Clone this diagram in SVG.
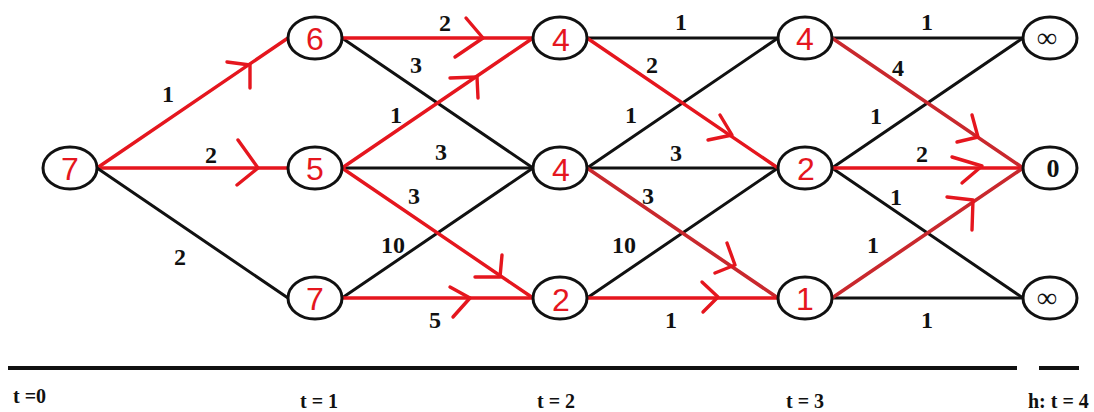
<svg xmlns="http://www.w3.org/2000/svg" width="1094" height="412" viewBox="0 0 1094 412">
<style>
.bk{stroke:#111;stroke-width:3;fill:none;stroke-linecap:round}
.rd{stroke:#e5161e;stroke-width:3.4;fill:none;stroke-linecap:round;stroke-linejoin:round}
.rd2{stroke:#c9282d;stroke-width:3.6;fill:none;stroke-linecap:round;stroke-linejoin:round}
.node ellipse{fill:#fff;stroke:#111;stroke-width:3}
.nv{font-family:"Liberation Sans",Arial,sans-serif;font-size:32px;fill:#e5161e;text-anchor:middle}
.nb{font-family:"Liberation Serif","Times New Roman",serif;font-weight:bold;fill:#111;text-anchor:middle}
.lb{font-family:"Liberation Serif","Times New Roman",serif;font-weight:bold;font-size:24px;fill:#111;text-anchor:middle}
.ax{font-family:"Liberation Serif","Times New Roman",serif;font-weight:bold;font-size:20px;fill:#111}
</style>
<rect width="1094" height="412" fill="#fff"/>
<g id="connectors">
  <line class="rd" x1="97" y1="168" x2="288" y2="38"/>
  <line class="rd" x1="97" y1="168" x2="288" y2="168"/>
  <line class="bk" x1="97" y1="168" x2="288" y2="298"/>
  <line class="bk" x1="342" y1="38" x2="533" y2="168"/>
  <line class="bk" x1="342" y1="168" x2="533" y2="168"/>
  <line class="bk" x1="342" y1="298" x2="533" y2="168"/>
  <line class="rd" x1="342" y1="38" x2="533" y2="38"/>
  <line class="rd" x1="342" y1="168" x2="533" y2="38"/>
  <line class="rd" x1="342" y1="168" x2="533" y2="298"/>
  <line class="rd" x1="342" y1="298" x2="533" y2="298"/>
  <line class="bk" x1="587" y1="38" x2="778" y2="38"/>
  <line class="bk" x1="587" y1="168" x2="778" y2="38"/>
  <line class="bk" x1="587" y1="168" x2="778" y2="168"/>
  <line class="bk" x1="587" y1="298" x2="778" y2="168"/>
  <line class="rd" x1="587" y1="38" x2="778" y2="168"/>
  <line class="rd2" x1="587" y1="168" x2="778" y2="298"/>
  <line class="rd" x1="587" y1="298" x2="778" y2="298"/>
  <line class="bk" x1="832" y1="38" x2="1023" y2="38"/>
  <line class="bk" x1="832" y1="168" x2="1023" y2="38"/>
  <line class="bk" x1="832" y1="168" x2="1023" y2="298"/>
  <line class="bk" x1="832" y1="298" x2="1023" y2="298"/>
  <line class="rd2" x1="832" y1="38" x2="1023" y2="168"/>
  <line class="rd" x1="832" y1="168" x2="1023" y2="168"/>
  <line class="rd2" x1="832" y1="298" x2="1023" y2="168"/>
  <polyline class="rd" points="227,62 250,65 250,88"/>
  <polyline class="rd" points="238,140 258,168 237,185"/>
  <polyline class="rd" points="466,18 483,38 455,57"/>
  <polyline class="rd" points="450,78 477,77 478,98"/>
  <polyline class="rd" points="502,255 500,277 475,277"/>
  <polyline class="rd" points="450,287 470,298 453,317"/>
  <polyline class="rd" points="720,115 732,135 708,140"/>
  <polyline class="rd" points="727,243 735,265 715,273"/>
  <polyline class="rd" points="702,282 718,297 703,312"/>
  <polyline class="rd" points="972,115 978,137 957,142"/>
  <polyline class="rd" points="952,157 982,166 962,183"/>
  <polyline class="rd" points="947,197 973,200 972,230"/>
</g>
<g id="edge-labels">
  <text class="lb" x="168" y="102">1</text>
  <text class="lb" x="211" y="163">2</text>
  <text class="lb" x="180" y="265">2</text>
  <text class="lb" x="445" y="31">2</text>
  <text class="lb" x="416" y="73">3</text>
  <text class="lb" x="396" y="123">1</text>
  <text class="lb" x="441" y="160">3</text>
  <text class="lb" x="414" y="204">3</text>
  <text class="lb" x="393" y="253">10</text>
  <text class="lb" x="435" y="328">5</text>
  <text class="lb" x="681" y="30">1</text>
  <text class="lb" x="652" y="73">2</text>
  <text class="lb" x="631" y="123">1</text>
  <text class="lb" x="676" y="161">3</text>
  <text class="lb" x="648" y="204">3</text>
  <text class="lb" x="624" y="253">10</text>
  <text class="lb" x="671" y="328">1</text>
  <text class="lb" x="927" y="30">1</text>
  <text class="lb" x="898" y="76">4</text>
  <text class="lb" x="876" y="124">1</text>
  <text class="lb" x="922" y="162">2</text>
  <text class="lb" x="896" y="205">1</text>
  <text class="lb" x="873" y="253">1</text>
  <text class="lb" x="927" y="328">1</text>
</g>
<g id="n0" class="node"><ellipse cx="70" cy="168" rx="27" ry="21"/><text class="nv" x="70" y="180">7</text></g>
<g id="n1a" class="node"><ellipse cx="315" cy="38" rx="27" ry="21"/><text class="nv" x="315" y="50">6</text></g>
<g id="n1b" class="node"><ellipse cx="315" cy="168" rx="27" ry="21"/><text class="nv" x="315" y="180">5</text></g>
<g id="n1c" class="node"><ellipse cx="315" cy="298" rx="27" ry="21"/><text class="nv" x="315" y="310">7</text></g>
<g id="n2a" class="node"><ellipse cx="560" cy="38" rx="27" ry="21"/><text class="nv" x="561" y="51">4</text></g>
<g id="n2b" class="node"><ellipse cx="560" cy="168" rx="27" ry="21"/><text class="nv" x="561" y="181">4</text></g>
<g id="n2c" class="node"><ellipse cx="560" cy="298" rx="27" ry="21"/><text class="nv" x="561" y="311">2</text></g>
<g id="n3a" class="node"><ellipse cx="805" cy="38" rx="27" ry="21"/><text class="nv" x="805" y="50">4</text></g>
<g id="n3b" class="node"><ellipse cx="805" cy="168" rx="27" ry="21"/><text class="nv" x="806" y="180">2</text></g>
<g id="n3c" class="node"><ellipse cx="805" cy="298" rx="27" ry="21"/><text class="nv" x="805" y="310">1</text></g>
<g id="n4a" class="node"><ellipse cx="1050" cy="38" rx="27" ry="21"/><text class="nb" x="1047" y="47" font-size="28">∞</text></g>
<g id="n4b" class="node"><ellipse cx="1050" cy="168" rx="27" ry="21"/><text class="nb" x="1053" y="177" font-size="26">0</text></g>
<g id="n4c" class="node"><ellipse cx="1050" cy="298" rx="27" ry="21"/><text class="nb" x="1047" y="307" font-size="28">∞</text></g>
<g id="axis">
  <line x1="8" y1="368" x2="1017" y2="368" stroke="#111" stroke-width="4"/>
  <line x1="1039" y1="368" x2="1079" y2="368" stroke="#111" stroke-width="4"/>
  <text class="ax" x="13" y="403">t =0</text>
  <text class="ax" x="300" y="408">t = 1</text>
  <text class="ax" x="537" y="408">t = 2</text>
  <text class="ax" x="786" y="408">t = 3</text>
  <text class="ax" x="1028" y="408">h: t = 4</text>
</g>
</svg>
